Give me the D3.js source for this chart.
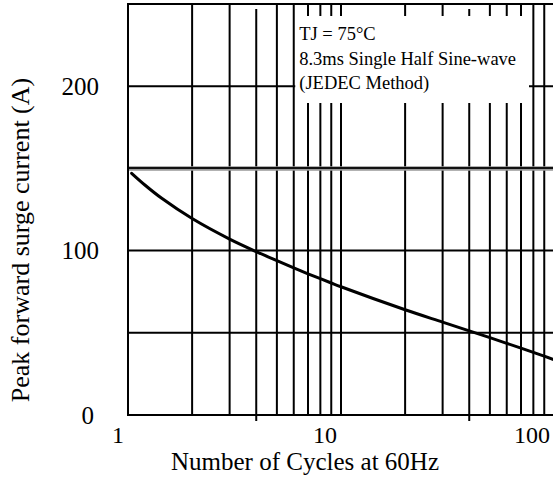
<!DOCTYPE html>
<html>
<head>
<meta charset="utf-8">
<script src="https://cdn.jsdelivr.net/npm/d3@7"></script>
<style>
  html, body { margin: 0; padding: 0; background: #fff; }
  svg { display: block; }
  text { font-family: "Liberation Serif", "Times New Roman", serif; fill: #000; }
</style>
</head>
<body>
<svg id="chart" width="553" height="479"></svg>
<script>
// ---- data ----
const cycles = [1.04, 1.2, 1.44, 2, 3, 4, 5, 6, 7, 8, 9, 10, 20, 30, 40, 50, 60, 70, 80, 90, 100];
const surge  = [147, 139.9, 131.8, 119.5, 107, 99.4, 93.9, 89.5, 85.9, 82.9, 80.3, 78, 64, 56.5, 51.2, 47.1, 43.6, 40.7, 38.1, 35.8, 33.6];
const xGrid = [2, 3, 4, 5, 6, 7, 8, 9, 10, 20, 30, 40, 50, 60, 70, 80, 90, 100];
const xTickLabels = [1, 10, 100];
const xTickMarks = [4, 40];
const yGrid = [50, 100, 200];
const yHeavy = [150];
const yTickLabels = [0, 100, 200];
const notes = ["TJ = 75\u00B0C", "8.3ms Single Half Sine-wave", "(JEDEC Method)"];
const xTitle = "Number of Cycles at 60Hz";
const yTitle = "Peak forward surge current (A)";

// ---- layout ----
const svg = d3.select("#chart");
const pLeft = 128, pRight = 554, pTop = 4, pBottom = 415;
const x = d3.scaleLog().domain([1, 100]).range([pLeft, pRight]);
const y = d3.scaleLinear().domain([0, 250]).range([pBottom, pTop]);

const g = svg.append("g");

// vertical grid
g.selectAll("line.vg").data(xGrid).join("line")
  .attr("x1", d => x(d)).attr("x2", d => x(d))
  .attr("y1", d => xTickMarks.includes(d) ? pTop + 5 : pTop)
  .attr("y2", d => xTickMarks.includes(d) ? pBottom + 6 : pBottom)
  .attr("stroke", "#000").attr("stroke-width", 2);

// horizontal grid
g.selectAll("line.hg").data(yGrid).join("line")
  .attr("x1", pLeft).attr("x2", 553)
  .attr("y1", d => y(d)).attr("y2", d => y(d))
  .attr("stroke", "#000").attr("stroke-width", 2);

// heavy double line
g.selectAll("line.hh").data(yHeavy).join("line")
  .attr("x1", pLeft).attr("x2", 553)
  .attr("y1", d => y(d)).attr("y2", d => y(d))
  .attr("stroke", "#999").attr("stroke-width", 4.5);
g.selectAll("line.hh2").data(yHeavy).join("line")
  .attr("x1", pLeft).attr("x2", 553)
  .attr("y1", d => y(d) - 0.5).attr("y2", d => y(d) - 0.5)
  .attr("stroke", "#111").attr("stroke-width", 2);

// frame: top, left, bottom
g.append("line").attr("x1", pLeft).attr("x2", 553).attr("y1", pTop).attr("y2", pTop)
  .attr("stroke", "#000").attr("stroke-width", 2);
g.append("line").attr("x1", pLeft).attr("x2", pLeft).attr("y1", pTop - 1).attr("y2", pBottom + 1)
  .attr("stroke", "#000").attr("stroke-width", 2);
g.append("line").attr("x1", pLeft).attr("x2", 553).attr("y1", pBottom).attr("y2", pBottom)
  .attr("stroke", "#000").attr("stroke-width", 2);

// annotation box
const boxX = x(6) + 1.5;
g.append("rect").attr("x", boxX).attr("y", 16).attr("width", 529 - boxX).attr("height", 87)
  .attr("fill", "#fff");
g.selectAll("text.note").data(notes).join("text")
  .attr("x", boxX + 4)
  .attr("y", (d, i) => 40 + i * 24.5)
  .attr("font-size", 18.5)
  .text(d => d);

// curve
const pts = cycles.map((c, i) => [c, surge[i]]);
g.append("path").datum(pts)
  .attr("fill", "none").attr("stroke", "#000").attr("stroke-width", 3)
  .attr("stroke-linecap", "round")
  .attr("d", d3.line().x(d => x(d[0])).y(d => y(d[1])).curve(d3.curveCatmullRom.alpha(0.5)));

// tick labels
g.selectAll("text.xl").data(xTickLabels).join("text")
  .attr("x", d => x(d) - 4).attr("y", 443)
  .attr("text-anchor", "end").attr("font-size", 24)
  .text(d => d);
g.selectAll("text.yl").data(yTickLabels).join("text")
  .attr("x", d => d === 0 ? 94 : 99).attr("y", d => y(d))
  .attr("dy", "0.35em")
  .attr("text-anchor", "end").attr("font-size", 25)
  .text(d => d);

// axis titles
g.append("text").attr("x", 305).attr("y", 470).attr("text-anchor", "middle")
  .attr("font-size", 25).text(xTitle);
g.append("text").attr("transform", "translate(29,240) rotate(-90)")
  .attr("text-anchor", "middle").attr("font-size", 26).text(yTitle);
</script>
</body>
</html>
